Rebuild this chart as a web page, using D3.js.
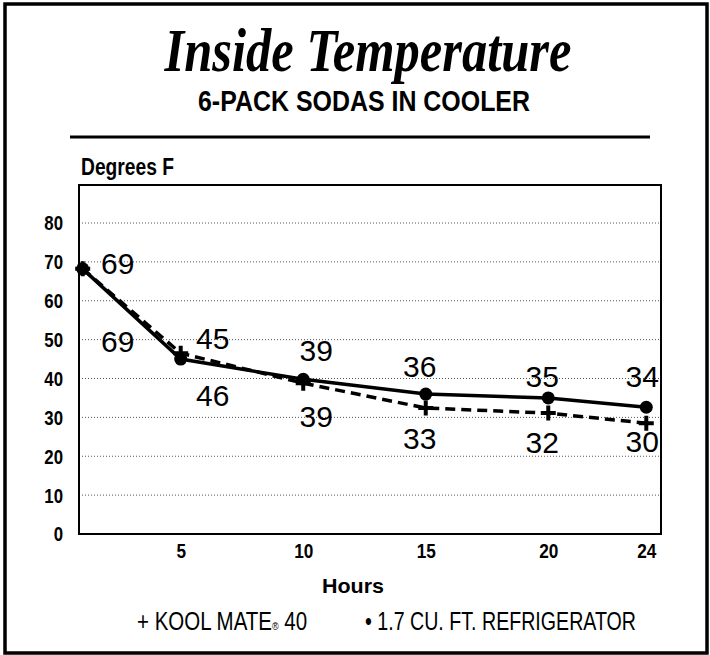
<!DOCTYPE html>
<html>
<head>
<meta charset="utf-8">
<script src="https://cdn.jsdelivr.net/npm/d3@7"></script>
<style>
  body { margin: 0; background: #fff; }
  svg { display: block; }
  .cond { font-family: "Liberation Sans", Arial, sans-serif; }
</style>
</head>
<body>
<svg id="chart" width="710" height="655"></svg>
<script>
(function () {
    'use strict';

    // hours measured
    var hours = [1, 5, 10, 15, 20, 24];
    var hourTicks = [5, 10, 15, 20, 24];
    var degreeTicks = [0, 10, 20, 30, 40, 50, 60, 70, 80];

    // plotted positions
    var koolMate = [68.2, 46.5, 38.8, 32.4, 31.1, 28.5];
    var fridge = [68.2, 45, 39.8, 36, 35, 32.6];

    // printed numbers next to the points
    var koolMateLabels = [69, 45, 39, 33, 32, 30];
    var fridgeLabels = [69, 46, 39, 36, 35, 34];

    var svg = d3.select('#chart');

    var x = d3.scaleLinear().domain([0.85, 24.6]).range([79, 661]);
    var y = d3.scaleLinear().domain([0, 80]).range([534, 223]);
    var plotTop = 185;

    // squeeze a text to fake a condensed face
    function condense(sel, k) {
        sel.each(function () {
            var w = this.getComputedTextLength();
            d3.select(this)
                .attr('textLength', w * k)
                .attr('lengthAdjust', 'spacingAndGlyphs');
        });
    }

    // outer frame
    svg.append('rect')
        .attr('x', 5).attr('y', 4).attr('width', 702).attr('height', 649)
        .attr('fill', 'none').attr('stroke', '#000').attr('stroke-width', 3.5);

    // title block
    svg.append('text')
        .attr('x', 368).attr('y', 71)
        .attr('text-anchor', 'middle')
        .attr('textLength', 407).attr('lengthAdjust', 'spacingAndGlyphs')
        .style('font-family', '"Liberation Serif", "DejaVu Serif", serif')
        .style('font-style', 'italic')
        .style('font-weight', 'bold')
        .style('font-size', '62px')
        .text('Inside Temperature');

    svg.append('text')
        .attr('class', 'cond')
        .attr('x', 364).attr('y', 111)
        .attr('text-anchor', 'middle')
        .attr('textLength', 332).attr('lengthAdjust', 'spacingAndGlyphs')
        .style('font-weight', 'bold')
        .style('font-size', '29px')
        .text('6-PACK SODAS IN COOLER');

    svg.append('line')
        .attr('x1', 70).attr('x2', 650).attr('y1', 137).attr('y2', 137)
        .attr('stroke', '#000').attr('stroke-width', 3);

    svg.append('text')
        .attr('class', 'cond')
        .attr('x', 81).attr('y', 175)
        .attr('textLength', 93).attr('lengthAdjust', 'spacingAndGlyphs')
        .style('font-weight', 'bold')
        .style('font-size', '23px')
        .text('Degrees F');

    // gridlines
    svg.append('g')
        .selectAll('line')
        .data(degreeTicks.filter(function (d) { return d > 0; }))
        .enter().append('line')
        .attr('x1', x.range()[0]).attr('x2', x.range()[1])
        .attr('y1', function (d) { return y(d); })
        .attr('y2', function (d) { return y(d); })
        .attr('stroke', '#555')
        .attr('stroke-width', 1)
        .attr('stroke-dasharray', '1,2');

    // plot box
    svg.append('rect')
        .attr('x', x.range()[0]).attr('y', plotTop)
        .attr('width', x.range()[1] - x.range()[0])
        .attr('height', y(0) - plotTop)
        .attr('fill', 'none').attr('stroke', '#000').attr('stroke-width', 2);

    // y axis labels
    var yAxis = d3.axisLeft(y).tickValues(degreeTicks).tickSize(0).tickPadding(16);
    var gy = svg.append('g').attr('transform', 'translate(' + x.range()[0] + ',0)').call(yAxis);
    gy.select('.domain').remove();
    gy.selectAll('text')
        .attr('class', 'cond')
        .attr('dy', '0.33em')
        .style('font-family', '"Liberation Sans", Arial, sans-serif')
        .style('font-weight', 'bold')
        .style('font-size', '21px')
        .attr('fill', '#000')
        .call(condense, 0.8);

    // x axis labels
    var xAxis = d3.axisBottom(x).tickValues(hourTicks).tickSize(0).tickPadding(10);
    var gx = svg.append('g').attr('transform', 'translate(0,' + y(0) + ')').call(xAxis);
    gx.select('.domain').remove();
    gx.selectAll('text')
        .attr('class', 'cond')
        .attr('y', 24).attr('dy', 0)
        .style('font-family', '"Liberation Sans", Arial, sans-serif')
        .style('font-weight', 'bold')
        .style('font-size', '21px')
        .attr('fill', '#000')
        .call(condense, 0.82);

    svg.append('text')
        .attr('class', 'cond')
        .attr('x', 353).attr('y', 593)
        .attr('text-anchor', 'middle')
        .attr('textLength', 62).attr('lengthAdjust', 'spacingAndGlyphs')
        .style('font-weight', 'bold')
        .style('font-size', '21px')
        .text('Hours');

    // lines
    var line = d3.line()
        .x(function (d, i) { return x(hours[i]); })
        .y(function (d) { return y(d); });

    svg.append('path')
        .datum(koolMate)
        .attr('d', line)
        .attr('fill', 'none').attr('stroke', '#000')
        .attr('stroke-width', 3.5)
        .attr('stroke-dasharray', '10,6');

    svg.append('path')
        .datum(fridge)
        .attr('d', line)
        .attr('fill', 'none').attr('stroke', '#000')
        .attr('stroke-width', 3.5);

    // markers
    svg.append('g').selectAll('path')
        .data(koolMate)
        .enter().append('path')
        .attr('d', function (d, i) {
            var cx = x(hours[i]), cy = y(d), s = 7.5;
            return 'M' + (cx - s) + ',' + cy + 'H' + (cx + s) +
                'M' + cx + ',' + (cy - s) + 'V' + (cy + s);
        })
        .attr('stroke', '#000').attr('stroke-width', 4);

    svg.append('g').selectAll('circle')
        .data(fridge)
        .enter().append('circle')
        .attr('cx', function (d, i) { return x(hours[i]); })
        .attr('cy', function (d) { return y(d); })
        .attr('r', 6.5)
        .attr('fill', '#000');

    // value labels: one above the upper point, one below the lower point
    var topDx = [35, 32, 13, -6, -6, -4],
        topDy = [5, -4, -18, -17, -11, -20],
        botDx = [35, 32, 13, -6, -6, -4],
        botDy = [83, 47, 44, 41, 40, 29];

    var pairs = hours.map(function (h, i) {
        var koolUp = koolMate[i] >= fridge[i];
        return {
            x: x(h),
            upY: y(Math.max(koolMate[i], fridge[i])),
            loY: y(Math.min(koolMate[i], fridge[i])),
            up: koolUp ? koolMateLabels[i] : fridgeLabels[i],
            lo: koolUp ? fridgeLabels[i] : koolMateLabels[i]
        };
    });

    var lbl = svg.append('g')
        .style('font-family', '"Liberation Sans", Arial, sans-serif')
        .style('font-size', '30px')
        .attr('text-anchor', 'middle');

    lbl.selectAll('text.up')
        .data(pairs)
        .enter().append('text')
        .attr('class', 'up')
        .attr('x', function (d, i) { return d.x + topDx[i]; })
        .attr('y', function (d, i) { return d.upY + topDy[i]; })
        .text(function (d) { return d.up; });

    lbl.selectAll('text.lo')
        .data(pairs)
        .enter().append('text')
        .attr('class', 'lo')
        .attr('x', function (d, i) { return d.x + botDx[i]; })
        .attr('y', function (d, i) { return d.loY + botDy[i]; })
        .text(function (d) { return d.lo; });

    // legend (squeezed horizontally to look condensed)
    var leg1 = svg.append('g')
        .attr('transform', 'translate(137,630) scale(0.82,1)')
        .append('text')
        .attr('class', 'cond')
        .style('font-size', '25px');
    leg1.append('tspan').text('+ KOOL MATE');
    leg1.append('tspan').style('font-size', '11px').text('®');
    leg1.append('tspan').text(' 40');

    svg.append('text')
        .attr('class', 'cond')
        .attr('x', 365).attr('y', 630)
        .attr('textLength', 271).attr('lengthAdjust', 'spacingAndGlyphs')
        .style('font-size', '25px')
        .text('\u2022 1.7 CU. FT. REFRIGERATOR');
}());
</script>
</body>
</html>
